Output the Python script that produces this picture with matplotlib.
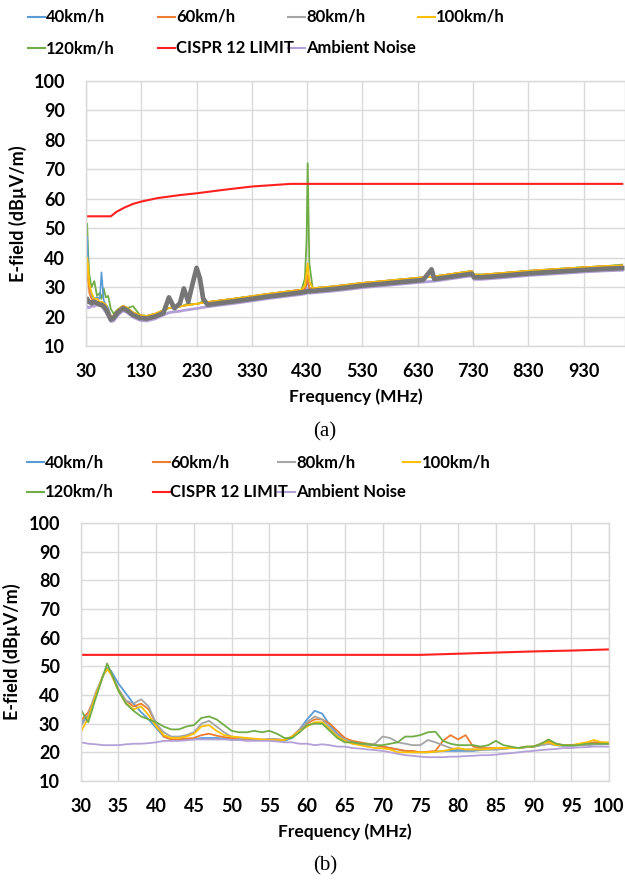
import matplotlib
matplotlib.use("Agg")
import matplotlib.pyplot as plt
from matplotlib.lines import Line2D

plt.rcParams['font.family'] = ['Lato', 'DejaVu Sans']
plt.rcParams['font.weight'] = 'bold'

# ---------------- series names / colours ----------------
SERIES = ["40km/h", "60km/h", "80km/h", "100km/h", "120km/h", "CISPR 12 LIMIT", "Ambient Noise"]
COLORS = ["#5B9BD5", "#ED7D31", "#A5A5A5", "#FFC000", "#70AD47", "#FF2020", "#B4A0D8"]

# ---------------- panel (a): 30 - 1000 MHz ----------------
freq_a = [30, 32, 34, 36, 40, 45, 50, 55, 58, 62, 66, 70, 75, 80, 88, 97, 105, 115, 128, 140,
          155, 170, 180, 190, 200, 207, 215, 222, 230, 236, 242, 250, 270, 300, 330, 360, 390, 420, 426, 429,
          431, 434, 440, 470, 500, 530, 560, 600, 640, 655, 660, 690, 720, 728, 732, 745, 780, 830, 880, 930,
          970, 1000]

e40_a = [28, 47, 36, 30, 27, 26, 26.5, 26, 35, 25.5, 24, 23, 20, 20.3, 22.3, 23.6, 22.9, 21.4, 20.4, 20.2,
         20.9, 22.1, 22.9, 23.2, 23.4, 23.7, 23.9, 24.1, 24.3, 24.5, 24.7, 24.9, 25.4, 26.1, 26.9, 27.7, 28.4, 29.1, 29.3, 30.5,
         33, 29.5, 29.6, 30.1, 30.7, 31.4, 31.9, 32.6, 33.3, 33.5, 33.6, 34.4, 35.2, 35.4, 34.2, 34.2, 34.7, 35.5, 36.1, 36.7,
         37.1, 37.3]
e60_a = [27, 38, 33, 28, 26, 25.5, 25, 25, 25, 24.5, 23.5, 22, 20, 20.3, 22.3, 23.6, 22.9, 21.4, 20.4, 20.2,
         20.9, 22.1, 22.9, 23.2, 23.4, 23.7, 23.9, 24.1, 24.3, 24.5, 24.7, 24.9, 25.4, 26.1, 26.9, 27.7, 28.4, 29.1, 29.3, 31,
         34, 29.5, 29.6, 30.1, 30.7, 31.4, 31.9, 32.6, 33.3, 33.5, 33.6, 34.4, 35.2, 35.4, 34.2, 34.2, 34.7, 35.5, 36.1, 36.7,
         37.1, 37.3]
e80_a = [26, 26, 25, 25, 24.5, 25, 24.5, 24, 24, 23.5, 22.5, 21, 19, 19.5, 21.5, 22.8, 22, 20.5, 19.5, 19.3,
         20, 21.2, 26.5, 22.8, 24.5, 29.5, 25, 30.5, 36.5, 33, 26, 24, 24.5, 25.2, 26, 26.8, 27.5, 28.2, 28.4, 28.5,
         28.6, 28.6, 28.7, 29.2, 29.8, 30.5, 31, 31.7, 32.4, 36, 32.7, 33.5, 34.3, 34.5, 33.3, 33.3, 33.8, 34.6, 35.2, 35.8,
         36.2, 36.4]
e100_a = [27, 40, 37, 31, 28, 26, 26, 25, 25, 24.5, 24, 22, 20, 20.3, 22.3, 23.6, 22.9, 21.4, 20.4, 20.2,
          20.9, 22.1, 22.9, 23.2, 23.4, 23.7, 23.9, 24.1, 24.3, 24.5, 24.7, 24.9, 25.4, 26.1, 26.9, 27.7, 28.4, 29.1, 30.5, 35,
          38, 32, 29.6, 30.1, 30.7, 31.4, 31.9, 32.6, 33.3, 33.5, 33.6, 34.4, 35.2, 35.4, 34.2, 34.2, 34.7, 35.5, 36.1, 36.7,
          37.1, 37.3]
e120_a = [36, 51.5, 41, 34, 30, 32, 27, 28, 26, 29.5, 26.5, 27, 22.5, 21, 22.5, 23.5, 22.9, 23.5, 20.4, 20.2,
          20.9, 22.1, 22.9, 23.2, 23.4, 23.7, 24.5, 24.1, 24.3, 24.5, 25.5, 24.9, 25.4, 26.1, 26.9, 27.7, 28.4, 29.1, 33, 46,
          72, 38, 29.6, 30.1, 30.7, 31.4, 31.9, 32.6, 33.3, 33.5, 33.6, 34.4, 35.2, 35.4, 34.2, 34.2, 34.7, 35.5, 36.1, 36.7,
          37.1, 37.6]
amb_a = [23.5, 23.5, 23, 23, 23.5, 23.5, 24, 24, 23.5, 22.5, 21.5, 20, 18.3, 18.5, 20.5, 22, 21.3, 19.8, 18.7, 18.5,
         19.2, 20.5, 21.3, 21.6, 21.8, 22.1, 22.3, 22.5, 22.7, 22.9, 23.1, 23.3, 23.8, 24.5, 25.3, 26.1, 26.8, 27.5, 27.7, 27.8,
         29.5, 27.9, 28, 28.5, 29.1, 29.8, 30.3, 31, 31.7, 31.9, 32, 32.8, 33.6, 33.8, 32.6, 32.6, 33.1, 33.9, 34.5, 35.1,
         35.5, 35.7]
limit_freq_a = [30, 75, 85, 100, 115, 130, 160, 200, 230, 280, 330, 400, 1000]
limit_a = [54, 54, 55.5, 57, 58.2, 59, 60.2, 61.2, 61.8, 63, 64.1, 65, 65]

# ---------------- panel (b): 30 - 100 MHz ----------------
freq_b = [30, 31, 32, 33, 33.5, 34, 35, 36, 37, 38, 39, 40, 41, 42, 43, 44, 45, 46, 47, 48,
          49, 50, 51, 52, 53, 54, 55, 56, 57, 58, 59, 60, 61, 62, 63, 64, 65, 66, 67, 68,
          69, 70, 71, 72, 73, 74, 75, 76, 77, 78, 79, 80, 81, 82, 83, 84, 85, 86, 87, 88,
          89, 90, 91, 92, 93, 94, 95, 96, 97, 98, 99, 100]
e40_b = [30, 33, 40, 47, 49.5, 48.5, 44, 40.5, 37, 34, 31.5, 28.5, 25.5, 24.5, 24.5, 24.5, 24.5, 25, 25, 25,
         24.8, 24.5, 24.5, 24.5, 24.5, 24.3, 24.5, 24.5, 24, 25, 28, 31.5, 34.5, 33.5, 29.5, 26.5, 24.5, 23.5, 23, 22.5,
         22.5, 22, 21.5, 21, 20.5, 20, 20, 20, 20.2, 20.5, 20.5, 20.5, 20.5, 20.5, 20.8, 21, 21, 21.2, 21.5, 21.5,
         21.8, 22, 22.5, 23, 22.5, 22.3, 22.3, 22.5, 22.5, 22.8, 22.8, 23]
e60_b = [31, 34, 40, 47, 49, 47.5, 42, 38, 36, 37, 35, 30, 25.5, 24.5, 24.5, 24.8, 25, 26, 26.5, 25.8,
         25.3, 25, 24.8, 24.5, 24.5, 24.3, 24.5, 24.5, 24.3, 25.5, 28, 30, 31.5, 31.5, 30, 27.5, 25, 24, 23.5, 23,
         22.5, 22, 21.5, 21, 20.5, 20.5, 20, 20.2, 20.5, 24, 26, 24.5, 26, 22, 21.5, 21.5, 21.5, 21.5, 21.5, 21.5,
         21.8, 22, 23, 24, 23, 22.5, 22.5, 22.5, 23, 23.5, 23.5, 23]
e80_b = [29, 33, 41, 47, 49, 48, 42, 38, 37, 38.5, 36, 30, 27, 25.5, 25.5, 26, 27, 30, 31, 29,
         27, 25.5, 25, 24.8, 24.5, 24.5, 24.5, 24.5, 24.3, 25.5, 28, 30.5, 32.5, 31.5, 28.5, 26, 24.5, 23.5, 23, 22.5,
         23, 25.5, 25, 23.5, 23, 22.5, 22.5, 24.3, 23.5, 22.5, 21.5, 21, 21, 21, 21, 21, 21, 21.2, 21.5, 21.5,
         21.8, 22, 22.5, 23, 22.5, 22.3, 22.3, 22.5, 22.5, 22.8, 23, 23]
e100_b = [27, 32, 40, 47, 49, 47.5, 41.5, 37, 35, 36, 33, 29, 26, 25, 25, 25.5, 26.5, 29, 29.5, 27.5,
          26, 25.5, 25.3, 25, 24.8, 24.5, 24.3, 24.3, 24.3, 25.5, 27.5, 29, 30.5, 30.5, 28, 25.5, 24, 23, 22.5, 22,
          21.5, 21.4, 21, 20, 20, 20, 20, 20, 20.2, 20.5, 21, 21.5, 21, 21, 21, 21.2, 21.5, 21.5, 21.5, 21.5,
          22, 22, 23, 23.5, 22.5, 22.5, 22.5, 23, 23.5, 24.3, 23.5, 23.5]
e120_b = [35, 30.5, 39, 47, 51, 48, 41.5, 37, 34.5, 32.5, 31.5, 30.5, 29, 28, 28, 29, 29.5, 32, 32.5, 31.5,
          29.5, 27.5, 27, 27, 27.5, 27, 27.5, 26.5, 25, 25, 27, 29.5, 30, 30, 27.5, 25, 23.5, 23.5, 23, 23,
          22.5, 22.5, 23, 23.5, 25.5, 25.5, 26, 27, 27.2, 24, 23, 22.5, 22.5, 22.5, 22, 22.5, 24, 22.5, 22, 21.5,
          22, 22, 23, 24.5, 23, 22.5, 22.5, 22.5, 23, 23, 23, 23]
amb_b = [23.5, 23, 22.8, 22.5, 22.5, 22.5, 22.5, 22.8, 23, 23, 23.2, 23.5, 24, 24, 24, 24.2, 24.5, 24.5, 24.5, 24.5,
         24.5, 24.3, 24.3, 24, 24, 24, 24, 23.8, 23.5, 23.5, 23, 23, 22.5, 22.8, 22.5, 22, 22, 21.5, 21.3, 21,
         20.8, 20.5, 20, 19.5, 19, 18.8, 18.5, 18.3, 18.3, 18.3, 18.5, 18.5, 18.7, 18.8, 19, 19, 19.2, 19.5, 19.7, 20,
         20.3, 20.5, 20.8, 21, 21.2, 21.5, 21.5, 21.7, 21.8, 22, 22, 22]
limit_freq_b = [30, 75, 80, 85, 90, 95, 100]
limit_b = [54, 54, 54.4, 54.8, 55.2, 55.5, 55.9]

xticks_a = [30, 130, 230, 330, 430, 530, 630, 730, 830, 930]
xticks_b = [30, 35, 40, 45, 50, 55, 60, 65, 70, 75, 80, 85, 90, 95, 100]
yticks = [10, 20, 30, 40, 50, 60, 70, 80, 90, 100]

W, H = 625, 882
fig = plt.figure(figsize=(W / 100, H / 100), dpi=100)

GRID = "#D9D9D9"
FS = 13
LEG_FS = 12


def style_axes(ax, xlim, xticks):
    ax.set_xlim(*xlim)
    ax.set_ylim(10, 100)
    ax.set_xticks(xticks)
    ax.set_yticks(yticks)
    ax.grid(True, color=GRID, lw=1.0)
    ax.set_axisbelow(True)
    for s in ax.spines.values():
        s.set_color(GRID)
        s.set_linewidth(1.0)
    ax.tick_params(length=0, labelsize=FS)
    ax.tick_params(axis='y', pad=15)
    ax.tick_params(axis='x', pad=12)
    for lab in ax.get_xticklabels() + ax.get_yticklabels():
        lab.set_fontweight('bold')
    ax.set_ylabel("E-field (dBµV/m)", fontsize=13, fontweight='bold', labelpad=5)


def legend(y_rows, x0, dx):
    for i, (name, col) in enumerate(zip(SERIES, COLORS)):
        r, c = divmod(i, 4)
        x = x0 + c * dx
        y = y_rows[r]
        fig.add_artist(Line2D([x / W, (x + 17) / W], [1 - y / H, 1 - y / H], color=col, lw=1.5))
        fig.text((x + 18) / W, 1 - y / H, name, fontsize=LEG_FS, fontweight='bold', va='center', ha='left')


# ---------- panel (a) ----------
axa = fig.add_axes([86 / W, 1 - 346 / H, (625 - 86) / W, (346 - 80.7) / H])
style_axes(axa, (30, 1005), xticks_a)
axa.plot(freq_a, amb_a, color=COLORS[6], lw=2.0)
axa.plot(freq_a, e120_a, color=COLORS[4], lw=1.3)
axa.plot(freq_a, e40_a, color=COLORS[0], lw=1.2)
axa.plot(freq_a, e60_a, color=COLORS[1], lw=1.2)
axa.plot(freq_a, e100_a, color=COLORS[3], lw=1.3)
axa.plot(freq_a, e80_a, color="#767676", lw=3.4)
axa.plot(limit_freq_a, limit_a, color=COLORS[5], lw=1.5)
axa.set_xlabel("Frequency (MHz)", fontsize=12.5, fontweight='bold', labelpad=6)
legend([17, 48], 28, 130)
fig.text(325 / W, 1 - 432 / H, "(a)", fontsize=15, family=['Liberation Serif'], fontweight='normal',
         ha='center', va='center')

# ---------- panel (b) ----------
axb = fig.add_axes([80.7 / W, 1 - 781 / H, (609 - 80.7) / W, (781 - 523) / H])
style_axes(axb, (30, 100), xticks_b)
axb.plot(freq_b, e40_b, color=COLORS[0], lw=1.3)
axb.plot(freq_b, e60_b, color=COLORS[1], lw=1.3)
axb.plot(freq_b, e80_b, color=COLORS[2], lw=1.3)
axb.plot(freq_b, e100_b, color=COLORS[3], lw=1.3)
axb.plot(freq_b, e120_b, color=COLORS[4], lw=1.3)
axb.plot(limit_freq_b, limit_b, color=COLORS[5], lw=1.5)
axb.plot(freq_b, amb_b, color=COLORS[6], lw=1.3)
axb.set_xlabel("Frequency (MHz)", fontsize=12.5, fontweight='bold', labelpad=6)
legend([462, 492], 27, 125.5)
fig.text(325 / W, 1 - 866 / H, "(b)", fontsize=15, family=['Liberation Serif'], fontweight='normal',
         ha='center', va='center')

fig.savefig("out.png", dpi=100)
